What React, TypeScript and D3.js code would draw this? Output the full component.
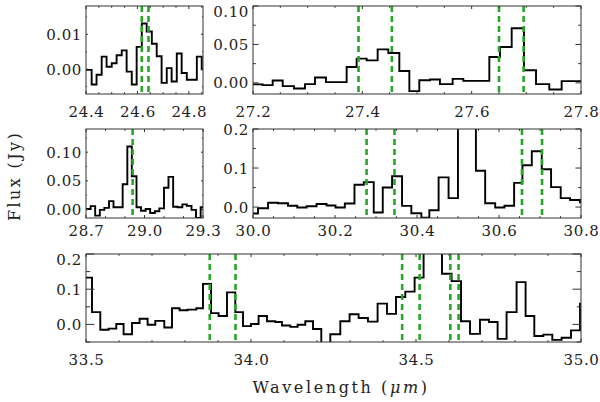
import { useEffect, useRef } from 'react';
import * as d3 from 'd3';

// 24.4 - 24.85 um
const edgesA = [24.390, 24.422, 24.441, 24.461, 24.480, 24.500, 24.519, 24.539, 24.558, 24.578, 24.597, 24.617, 24.636, 24.656, 24.675, 24.694, 24.714, 24.733, 24.753, 24.772, 24.792, 24.811, 24.831, 24.850, 24.870];
const fluxA = [-0.0002, -0.0044, -0.0016, 0.0036, 0.0007, 0.0017, 0.0040, 0.0054, -0.0007, -0.0044, 0.0064, 0.0131, 0.0108, 0.0073, 0.0037, -0.0039, 0.0003, -0.0035, 0.0045, -0.0011, -0.0030, -0.0030, 0.0036, 0.0000];
const linesA = [24.617, 24.643];
const xTicksA = [24.4, 24.6, 24.8];
const yTicksA = [0, 0.01];

// 27.2 - 27.8 um
const edgesB = [27.1945, 27.2177, 27.236, 27.2543, 27.275, 27.2951, 27.3134, 27.3335, 27.3518, 27.3713, 27.3896, 27.4079, 27.428, 27.4475, 27.4677, 27.486, 27.5042, 27.5238, 27.542, 27.5652, 27.5847, 27.6079, 27.6323, 27.6518, 27.6732, 27.6957, 27.7177, 27.742, 27.7646, 27.7872, 27.8103];
const fluxB = [-0.002, -0.003, 0.003, -0.0043, -0.0073, -0.0017, 0.0069, 0.0009, 0.0009, 0.0207, 0.0315, 0.0293, 0.0435, 0.0388, 0.0155, -0.0108, 0.0034, 0.0043, -0.0017, 0.0052, 0.0026, 0.0026, 0.0336, 0.0466, 0.0711, 0.0164, -0.0017, -0.0086, 0.0022, 0.0022];
const linesB = [27.393, 27.454, 27.650, 27.695];
const xTicksB = [27.2, 27.4, 27.6, 27.8];
const yTicksB = [0, 0.05, 0.1];

// 28.7 - 29.3 um
const edgesC = [28.690, 28.724, 28.747, 28.771, 28.794, 28.818, 28.841, 28.865, 28.888, 28.912, 28.935, 28.959, 28.982, 29.006, 29.029, 29.053, 29.076, 29.100, 29.123, 29.147, 29.170, 29.194, 29.217, 29.241, 29.264, 29.288, 29.311];
const fluxC = [0.001, 0.006, -0.0106, -0.0006, 0.003, 0.0147, 0.004, 0.004, 0.044, 0.110, 0.058, 0.004, -0.002, 0.001, -0.006, -0.003, 0.002, 0.038, 0.057, 0.005, 0.004, 0.009, 0.0065, -0.0006, -0.0147, 0.004];
const linesC = [28.939];
const xTicksC = [28.7, 29.0, 29.3];
const yTicksC = [0, 0.05, 0.1];

// 30.0 - 30.8 um
const edgesD = [29.9944, 30.0122, 30.0366, 30.0609, 30.0853, 30.108, 30.1307, 30.155, 30.1794, 30.2013, 30.224, 30.2475, 30.2702, 30.2945, 30.3165, 30.3392, 30.3635, 30.3862, 30.4106, 30.4301, 30.4527, 30.477, 30.4999, 30.5218, 30.5437, 30.5663, 30.5907, 30.6133, 30.6369, 30.6571, 30.68, 30.7043, 30.727, 30.7505, 30.7732, 30.7975, 30.8194];
const fluxD = [-0.0165, -0.003, 0.011, 0.0096, 0.0035, -0.001, 0.002, 0.008, 0.004, -0.001, 0.009, 0.057, 0.064, -0.014, 0.050, 0.079, 0.003, -0.016, -0.027, -0.008, 0.076, 0.023, 0.30, 0.26, 0.093, 0.0096, -0.001, 0.0035, 0.062, 0.107, 0.143, 0.097, 0.051, 0.023, 0.018, 0.012];
const linesD = [30.277, 30.345, 30.656, 30.705];
const xTicksD = [30.0, 30.2, 30.4, 30.6, 30.8];
const yTicksD = [0, 0.1, 0.2];

// 33.5 - 35.0 um
const edgesE = [33.4827, 33.5182, 33.5433, 33.5685, 33.5918, 33.6139, 33.6394, 33.6624, 33.6867, 33.71, 33.7373, 33.7606, 33.7836, 33.8079, 33.8342, 33.8545, 33.8788, 33.9018, 33.9273, 33.9524, 33.9758, 34.0, 34.023, 34.0485, 34.0736, 34.0939, 34.1191, 34.1412, 34.1645, 34.1879, 34.213, 34.2403, 34.2706, 34.2988, 34.3261, 34.3545, 34.3836, 34.4121, 34.4394, 34.4676, 34.4958, 34.523, 34.5509, 34.5788, 34.6079, 34.6364, 34.6636, 34.6939, 34.7212, 34.7473, 34.7745, 34.8048, 34.8321, 34.8585, 34.8858, 34.913, 34.9412, 34.9697, 34.997, 35.0252];
const fluxE = [0.133, 0.035, -0.015, -0.012, 0.001, -0.028, 0.004, 0.016, -0.001, 0.010, -0.009, 0.046, 0.040, 0.042, 0.046, 0.115, 0.032, 0.024, 0.091, 0.035, -0.005, 0.001, 0.024, 0.009, 0.007, -0.003, -0.007, -0.001, 0.009, -0.013, -0.07, -0.028, 0.009, 0.029, 0.018, 0.008, 0.059, 0.030, 0.078, 0.093, 0.133, 0.28, 0.25, 0.144, 0.123, 0.009, -0.027, 0.013, 0.007, -0.041, 0.035, 0.120, 0.024, -0.033, -0.029, -0.044, -0.038, -0.017, 0.059];
const linesE = [33.875, 33.953, 34.458, 34.511, 34.604, 34.629];
const xTicksE = [33.5, 34.0, 34.5, 35.0];
const yTicksE = [0, 0.1, 0.2];

const GREEN = '#25a825';
const INK = '#222';
const FONT = 'DejaVu Serif, Liberation Serif, serif';

type Panel = {
  edges: number[]; flux: number[]; lines: number[];
  xTicks: number[]; yTicks: number[];
  xDomain: [number, number]; yDomain: [number, number];
  xMinor: number; yMinor: number;
  box: [number, number, number, number]; // left, top, right, bottom
  xFmt: string; yFmt: string; labelDy: number; topShift: number;
};

const PANELS: Panel[] = [
  { edges: edgesA, flux: fluxA, lines: linesA, xTicks: xTicksA, yTicks: yTicksA, xDomain: [24.4, 24.855], yDomain: [-0.0071, 0.0181], xMinor: 0.05, yMinor: 0.005, box: [86, 6, 203, 94], xFmt: '.1f', yFmt: '.2f', labelDy: 23, topShift: 0 },
  { edges: edgesB, flux: fluxB, lines: linesB, xTicks: xTicksB, yTicks: yTicksB, xDomain: [27.2, 27.8], yDomain: [-0.0145, 0.1], xMinor: 0.05, yMinor: 0.025, box: [253, 6, 581, 94], xFmt: '.1f', yFmt: '.2f', labelDy: 23, topShift: 5 },
  { edges: edgesC, flux: fluxC, lines: linesC, xTicks: xTicksC, yTicks: yTicksC, xDomain: [28.7, 29.3], yDomain: [-0.0147, 0.1404], xMinor: 0.1, yMinor: 0.025, box: [86, 129, 203, 218], xFmt: '.1f', yFmt: '.2f', labelDy: 18, topShift: 0 },
  { edges: edgesD, flux: fluxD, lines: linesD, xTicks: xTicksD, yTicks: yTicksD, xDomain: [30.0, 30.8], yDomain: [-0.028, 0.2], xMinor: 0.05, yMinor: 0.05, box: [253, 129, 581, 218], xFmt: '.1f', yFmt: '.1f', labelDy: 18, topShift: 0 },
  { edges: edgesE, flux: fluxE, lines: linesE, xTicks: xTicksE, yTicks: yTicksE, xDomain: [33.5, 35.0], yDomain: [-0.05, 0.2], xMinor: 0.1, yMinor: 0.05, box: [86, 254, 581, 342], xFmt: '.1f', yFmt: '.1f', labelDy: 23, topShift: 5 },
];

const minorTicks = (d: [number, number], step: number, major: number[]) => {
  const lo = Math.ceil(d[0] / step - 1e-6);
  const hi = Math.floor(d[1] / step + 1e-6);
  return d3.range(lo, hi + 1).map((k) => k * step)
    .filter((v) => !major.some((m) => Math.abs(m - v) < step / 10));
};

export default function App() {
  const svgRef = useRef<SVGSVGElement>(null);

  useEffect(() => {
    const svg = d3.select(svgRef.current);
    svg.selectAll('*').remove();
    const defs = svg.append('defs');

    PANELS.forEach((p, idx) => {
      const [l, t, r, b] = p.box;
      const x = d3.scaleLinear().domain(p.xDomain).range([l, r]);
      const y = d3.scaleLinear().domain(p.yDomain).range([b, t]);
      const clipId = `clip-${idx}`;
      defs.append('clipPath').attr('id', clipId)
        .append('rect').attr('x', l).attr('y', t).attr('width', r - l).attr('height', b - t);

      const g = svg.append('g');

      // spectrum, histogram style
      const pts = p.edges.map((e, i) => [e, p.flux[Math.min(i, p.flux.length - 1)]] as [number, number]);
      const step = d3.line<[number, number]>().x((d) => x(d[0])).y((d) => y(d[1])).curve(d3.curveStepAfter);
      g.append('path').attr('d', step(pts)).attr('fill', 'none').attr('stroke', '#000')
        .attr('stroke-width', 1.9).attr('clip-path', `url(#${clipId})`);

      // line positions
      g.selectAll('line.mark').data(p.lines).join('line').attr('class', 'mark')
        .attr('x1', (d) => x(d)).attr('x2', (d) => x(d)).attr('y1', t).attr('y2', b)
        .attr('stroke', GREEN).attr('stroke-width', 2.6).attr('stroke-dasharray', '6,4');

      // frame
      g.append('rect').attr('x', l).attr('y', t).attr('width', r - l).attr('height', b - t)
        .attr('fill', 'none').attr('stroke', '#333').attr('stroke-width', 1);

      // ticks, inward on all sides
      const yLen = 0.017 * (r - l);
      const xLen = 3;
      const tk = g.append('g').attr('stroke', '#333').attr('stroke-width', 1);
      const xMin = minorTicks(p.xDomain, p.xMinor, p.xTicks);
      const yMin = minorTicks(p.yDomain, p.yMinor, p.yTicks);
      const xs = [...p.xTicks.map((v) => ({ v, len: xLen })), ...xMin.map((v) => ({ v, len: xLen * 0.6 }))];
      const ys = [...p.yTicks.map((v) => ({ v, len: yLen })), ...yMin.map((v) => ({ v, len: yLen / 2 }))];
      xs.forEach(({ v, len }) => {
        tk.append('line').attr('x1', x(v)).attr('x2', x(v)).attr('y1', b).attr('y2', b - len);
        tk.append('line').attr('x1', x(v)).attr('x2', x(v)).attr('y1', t).attr('y2', t + len);
      });
      ys.forEach(({ v, len }) => {
        tk.append('line').attr('x1', l).attr('x2', l + len).attr('y1', y(v)).attr('y2', y(v));
        tk.append('line').attr('x1', r).attr('x2', r - len).attr('y1', y(v)).attr('y2', y(v));
      });

      // tick labels
      const xf = d3.format(p.xFmt);
      const yf = d3.format(p.yFmt);
      g.selectAll('text.xl').data(p.xTicks).join('text').attr('class', 'xl')
        .attr('x', (d) => x(d) + 0.5).attr('y', b + p.labelDy)
        .attr('text-anchor', 'middle').text((d) => xf(d));
      g.selectAll('text.yl').data(p.yTicks).join('text').attr('class', 'yl')
        .attr('x', l - 4)
        .attr('y', (d) => y(d) + 5.5 + (Math.abs(y(d) - t) < 1 ? p.topShift : 0))
        .attr('text-anchor', 'end').text((d) => yf(d));
      g.selectAll('text').attr('font-family', FONT).attr('font-size', 15)
        .attr('font-weight', 300).attr('letter-spacing', 0.6).attr('fill', INK);
    });

    // axis titles
    const xt = svg.append('text').attr('x', 341).attr('y', 393).attr('text-anchor', 'middle')
      .attr('font-family', FONT).attr('font-size', 16).attr('letter-spacing', 2.6).attr('fill', INK);
    xt.append('tspan').text('Wavelength (');
    xt.append('tspan').attr('font-style', 'italic').text('μm');
    xt.append('tspan').text(')');

    svg.append('text').attr('transform', 'translate(20,176) rotate(-90)').attr('text-anchor', 'middle')
      .attr('font-family', FONT).attr('font-size', 16).attr('letter-spacing', 2.4).attr('fill', INK)
      .text('Flux (Jy)');
  }, []);

  return (
    <svg ref={svgRef} width={600} height={402}
      style={{ position: 'absolute', left: 0, top: 0, background: '#fff' }} />
  );
}
